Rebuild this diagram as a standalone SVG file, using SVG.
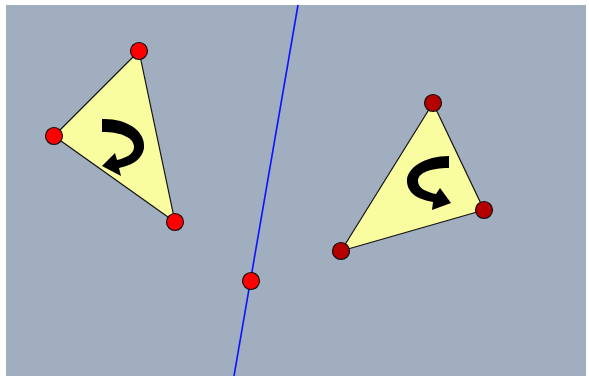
<svg xmlns="http://www.w3.org/2000/svg" width="589" height="376" viewBox="0 0 589 376">
<style>
.tri{fill:#fafca0;stroke:#111;stroke-width:1.2;stroke-linejoin:round}
.pt{fill:#ff0000;stroke:#111;stroke-width:1.2}
.pt2{fill:#b50000;stroke:#111;stroke-width:1.2}
.arr{fill:#000}
.ln{stroke:#0a14ff;stroke-width:1.6;fill:none}
</style>
<rect width="589" height="376" fill="#ffffff"/>
<rect x="6" y="5" width="580" height="371" fill="#a1aec0"/>
<g id="connectors">
<line class="ln" x1="298" y1="5" x2="234" y2="376"/>
</g>
<g id="triangle-left">
<polygon class="tri" points="139,51 54,136 175,222"/>
<path class="arr" d="M102,119 C125,118 146,130 144,148 C142,161 129,166 119,168 L121,176 L102,166 L115,153 L117,160 C126,158 134,154 134,147 C134,138 122,132 102,132 Z"/>
<circle class="pt" cx="139" cy="51" r="8.5"/>
<circle class="pt" cx="54" cy="136" r="8.5"/>
<circle class="pt" cx="175" cy="222" r="8.5"/>
</g>
<g id="triangle-right">
<polygon class="tri" points="433,103 484,210 341,251"/>
<path class="arr" d="M449,156 C425,156 406,168 407,182 C408,195 421,200 433,202 L432,210 L451,203 L440,188 L436,194 C426,192 418,188 418,181 C418,173 430,168 449,168 Z"/>
<circle class="pt2" cx="433" cy="103" r="8.5"/>
<circle class="pt2" cx="484" cy="210" r="8.5"/>
<circle class="pt2" cx="341" cy="251" r="8.5"/>
</g>
<g id="line-point">
<circle class="pt" cx="251" cy="281" r="8.5"/>
</g>
</svg>
